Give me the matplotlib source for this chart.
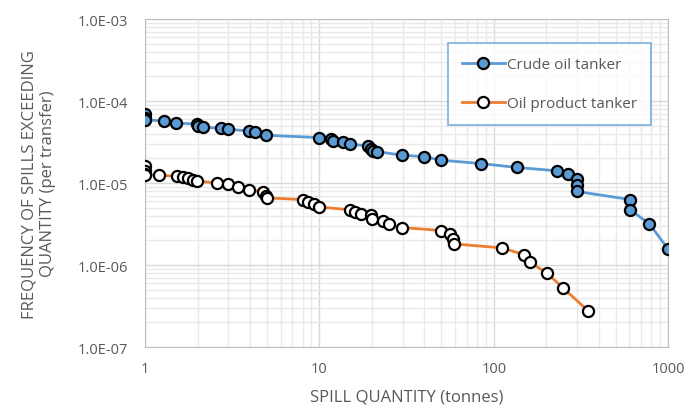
import matplotlib
matplotlib.use("Agg")
import matplotlib.pyplot as plt
from matplotlib.ticker import FuncFormatter, LogLocator, NullFormatter

plt.rcParams['font.family'] = ['Open Sans', 'DejaVu Sans']

# spill quantity (tonnes) and frequency of spills exceeding quantity (per transfer)
crude_qty = [1, 1, 1, 1.28, 1.51, 1.98, 2.02, 2.16, 2.72, 2.98, 3.95, 4.28, 4.94,
             9.96, 11.6, 12.0, 13.7, 14.9, 18.9, 19.7, 20.4, 21.5, 29.9, 40, 49.9,
             84.7, 136, 232, 268, 300, 300, 300, 606, 606, 782, 1000]
crude_freq = [6.9e-5, 6.2e-5, 5.9e-5, 5.73e-5, 5.42e-5, 5.22e-5, 4.98e-5, 4.8e-5,
              4.67e-5, 4.53e-5, 4.32e-5, 4.17e-5, 3.83e-5,
              3.59e-5, 3.45e-5, 3.3e-5, 3.14e-5, 2.97e-5, 2.86e-5, 2.6e-5, 2.48e-5,
              2.41e-5, 2.19e-5, 2.1e-5, 1.9e-5, 1.73e-5, 1.55e-5, 1.41e-5, 1.28e-5,
              1.11e-5, 9.4e-6, 7.9e-6, 6.3e-6, 4.73e-6, 3.18e-6, 1.57e-6]

product_qty = [1, 1, 1, 1, 1.2, 1.52, 1.64, 1.75, 1.88, 1.99, 2.6, 2.98, 3.43,
               3.95, 4.77, 4.94, 5.0, 8.0, 8.6, 9.3, 10.0, 14.9, 16.0, 17.3, 19.7,
               19.9, 23.3, 25.0, 29.9, 50.0, 56.1, 58.1, 59.3, 112, 149, 162, 202,
               249, 349]
product_freq = [1.63e-5, 1.4e-5, 1.3e-5, 1.25e-5, 1.25e-5, 1.21e-5, 1.17e-5,
                1.14e-5, 1.1e-5, 1.06e-5, 1.0e-5, 9.7e-6, 8.97e-6, 8.3e-6, 7.8e-6,
                6.9e-6, 6.6e-6, 6.3e-6, 5.95e-6, 5.55e-6, 5.1e-6, 4.73e-6, 4.43e-6,
                4.19e-6, 4.03e-6, 3.66e-6, 3.43e-6, 3.13e-6, 2.87e-6, 2.64e-6,
                2.4e-6, 2.09e-6, 1.81e-6, 1.62e-6, 1.34e-6, 1.08e-6, 7.97e-7,
                5.3e-7, 2.75e-7]

gray = '#595959'

fig = plt.figure(figsize=(6.88, 4.10), dpi=100)
ax = fig.add_axes([0.211, 0.151, 0.76, 0.80])

ax.plot(crude_qty, crude_freq, color='#5B9BD5', lw=2, marker='o', ms=8,
        mfc='#5B9BD5', mec='black', mew=1.6, label='Crude oil tanker', zorder=3)
ax.plot(product_qty, product_freq, color='#ED7D31', lw=2, marker='o', ms=8,
        mfc='white', mec='black', mew=1.6, label='Oil product tanker', zorder=3)

ax.set_xscale('log')
ax.set_yscale('log')
ax.set_xlim(1, 1000)
ax.set_ylim(1e-7, 1e-3)

ax.xaxis.set_major_locator(LogLocator(base=10, numticks=10))
ax.xaxis.set_minor_locator(LogLocator(base=10, subs=range(2, 10), numticks=20))
ax.yaxis.set_major_locator(LogLocator(base=10, numticks=10))
ax.yaxis.set_minor_locator(LogLocator(base=10, subs=range(2, 10), numticks=20))
ax.xaxis.set_major_formatter(FuncFormatter(lambda v, p: '%d' % round(v)))
ax.yaxis.set_major_formatter(FuncFormatter(lambda v, p: '%.1E' % v))
ax.xaxis.set_minor_formatter(NullFormatter())
ax.yaxis.set_minor_formatter(NullFormatter())

ax.grid(True, which='major', color='#D9D9D9', lw=1.0, zorder=0)
ax.grid(True, which='minor', color='#E9E9E9', lw=1.0, zorder=0)
ax.set_axisbelow(True)
for s in ax.spines.values():
    s.set_color('#BFBFBF')
ax.tick_params(which='both', length=0, colors=gray, labelsize=10.5)
ax.tick_params(axis='y', pad=12)
ax.tick_params(axis='x', pad=10)

ax.set_xlabel('SPILL QUANTITY (tonnes)', color=gray, fontsize=12, labelpad=9)
ax.set_ylabel('FREQUENCY OF SPILLS EXCEEDING\nQUANTITY (per transfer)', color=gray,
              fontsize=12, labelpad=16)

leg = ax.legend(loc='upper right', bbox_to_anchor=(0.982, 0.95), frameon=True,
                fancybox=False, labelspacing=1.6, handlelength=2.8, handletextpad=0.15,
                borderpad=0.9, fontsize=11)
leg.get_frame().set_edgecolor('#5B9BD5')
leg.get_frame().set_linewidth(1.2)
for t in leg.get_texts():
    t.set_color(gray)

fig.savefig('out.png', dpi=100)
